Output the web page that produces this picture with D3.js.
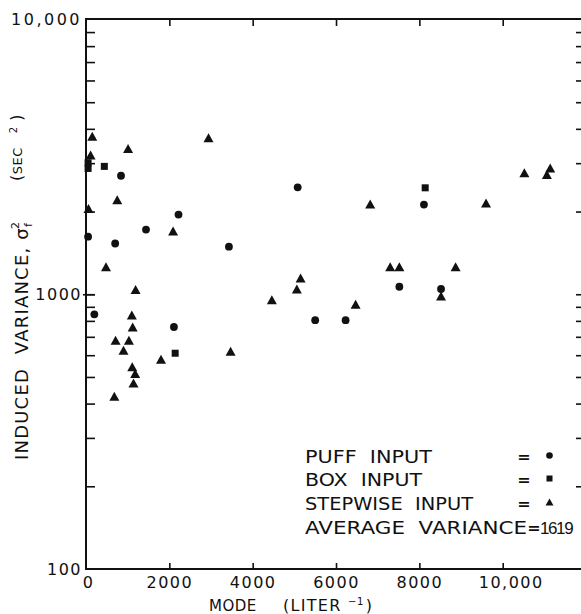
<!DOCTYPE html>
<html>
<head>
<meta charset="utf-8">
<script src="https://cdn.jsdelivr.net/npm/d3@7"></script>
<style>
  html, body { margin: 0; padding: 0; background: #fff; }
  svg { display: block; }
  text { font-family: "DejaVu Sans", sans-serif; fill: #111; white-space: pre; }
</style>
</head>
<body>
<svg id="chart" width="581" height="614"></svg>
<script>
// ---- data (mode in liter^-1, induced variance in sec^2) ----
const puffInput = [
  [840, 2700], [2220, 1950], [1440, 1720], [50, 1620], [700, 1530], [3430, 1490],
  [5080, 2450], [8110, 2120], [7520, 1065], [8520, 1045], [200, 845], [2110, 760],
  [5500, 805], [6230, 805]
];
const boxInput = [
  [440, 2920], [50, 3010], [50, 2870], [2140, 610], [8140, 2440]
];
const stepwiseInput = [
  [150, 3760], [110, 3210], [1010, 3390], [2940, 3710], [750, 2210], [60, 2050],
  [2090, 1700], [480, 1260], [1190, 1040], [1100, 840], [1120, 760], [710, 680],
  [1030, 680], [900, 625], [1800, 580], [3470, 620], [1110, 545], [1180, 515],
  [1140, 475], [680, 425], [4460, 955], [5060, 1045], [5150, 1145], [6470, 920],
  [6820, 2130], [7300, 1260], [7520, 1260], [8870, 1260], [8520, 985], [9600, 2150],
  [10520, 2770], [11140, 2880], [11060, 2730]
];
const xTickValues = [0, 2000, 4000, 6000, 8000, 10000];
const xTickLabels = ["0", "2000", "4000", "6000", "8000", "10,000"];
const yMajorValues = [100, 1000, 10000];
const yMajorLabels = ["100", "1000", "10,000"];
const yMinorValues = [200, 300, 400, 500, 600, 700, 800, 900, 2000, 3000, 4000, 5000, 6000, 7000, 8000, 9000];
const legendLabels = ["PUFF  INPUT", "BOX  INPUT", "STEPWISE  INPUT"];
const averageLabel = "AVERAGE  VARIANCE";
const averageValue = "1619";

// ---- layout ----
const svg = d3.select("#chart");
const pL = 86, pR = 582, pT = 19, pB = 569;
const x = d3.scaleLinear().domain([0, 10000]).range([pL, 502.7]);
const y = d3.scaleLog().domain([100, 10000]).range([pB, pT + 0.5]);

// spines
const spine = svg.append("g").attr("stroke", "#111").attr("stroke-width", 2);
spine.append("line").attr("x1", pL).attr("x2", pL).attr("y1", pT - 1).attr("y2", pB + 1);
spine.append("line").attr("x1", pL - 1).attr("x2", pR).attr("y1", pB).attr("y2", pB);
spine.append("line").attr("x1", pL - 1).attr("x2", pR).attr("y1", pT).attr("y2", pT);
spine.append("line").attr("x1", pR).attr("x2", pR).attr("y1", pT).attr("y2", pB);

function styleAxis(g) {
  g.select(".domain").remove();
  g.selectAll(".tick line").attr("stroke", "#111").attr("stroke-width", 1.6);
  g.selectAll(".tick text").attr("fill", "#111").style("font-family", "'DejaVu Sans', sans-serif");
}

// bottom axis (ticks inward)
const fmtX = d => xTickLabels[xTickValues.indexOf(d)];
svg.append("g").attr("transform", `translate(0,${pB})`)
  .call(d3.axisBottom(x).tickValues(xTickValues).tickSizeInner(-6).tickSizeOuter(0).tickPadding(7.5).tickFormat(fmtX))
  .call(styleAxis)
  .call(g => g.selectAll(".tick text").style("font-size", "16px").style("letter-spacing", "1.5px")
    .attr("dx", d => d === 10000 ? 8 : (d === 0 ? 2 : 0)))
  .call(g => g.selectAll(".tick").filter(d => d === 0).select("line").remove());

// top axis ticks
svg.append("g").attr("transform", `translate(0,${pT})`)
  .call(d3.axisTop(x).tickValues(xTickValues.slice(1)).tickSizeInner(-7).tickSizeOuter(0).tickFormat(""))
  .call(styleAxis);

// left axis majors + labels
const fmtY = d => yMajorLabels[yMajorValues.indexOf(d)];
svg.append("g").attr("transform", `translate(${pL},0)`)
  .call(d3.axisLeft(y).tickValues(yMajorValues).tickSizeInner(-9).tickSizeOuter(0).tickPadding(4).tickFormat(fmtY))
  .call(styleAxis)
  .call(g => g.selectAll(".tick text").style("font-size", "16px")
    .style("letter-spacing", d => d === 10000 ? "2.5px" : "1.5px"))
  .call(g => g.selectAll(".tick").filter(d => d === 100 || d === 10000).select("line").remove());
svg.append("g").attr("transform", `translate(${pL - 3},0)`)
  .call(d3.axisRight(y).tickValues([1000]).tickSizeInner(12).tickSizeOuter(0).tickFormat(""))
  .call(styleAxis);

// left minor ticks
svg.append("g").attr("transform", `translate(${pL},0)`)
  .call(d3.axisRight(y).tickValues(yMinorValues).tickSizeInner(9).tickSizeOuter(0).tickFormat(""))
  .call(styleAxis);

// right axis ticks
svg.append("g").attr("transform", `translate(${pR},0)`)
  .call(d3.axisLeft(y).tickValues(yMinorValues.concat([1000])).tickSizeInner(-6).tickSizeOuter(0).tickFormat(""))
  .call(styleAxis)
  .call(g => g.selectAll(".tick line").attr("x2", -6));

// ---- markers ----
const triPath = (w, h) => `M0,${-h / 2}L${w / 2},${h / 2}L${-w / 2},${h / 2}Z`;
const marks = svg.append("g").attr("fill", "#111");
marks.selectAll("circle.puff").data(puffInput).join("circle")
  .attr("class", "puff").attr("cx", d => x(d[0])).attr("cy", d => y(d[1])).attr("r", 3.9);
marks.selectAll("rect.box").data(boxInput).join("rect")
  .attr("class", "box").attr("x", d => x(d[0]) - 3.5).attr("y", d => y(d[1]) - 3.5)
  .attr("width", 7).attr("height", 7);
marks.selectAll("path.step").data(stepwiseInput).join("path")
  .attr("class", "step").attr("d", triPath(10, 9))
  .attr("transform", d => `translate(${x(d[0])},${y(d[1])})`);

// ---- legend ----
const legend = svg.append("g");
const legendY = [463, 486, 510];
const legendWidths = [127, 117, 168];
legendLabels.forEach((t, i) => {
  legend.append("text").attr("x", 305).attr("y", legendY[i])
    .attr("textLength", legendWidths[i]).attr("lengthAdjust", "spacingAndGlyphs")
    .style("font-size", "18px").text(t);
  legend.append("text").attr("x", 524).attr("y", legendY[i] - 1).attr("text-anchor", "middle")
    .style("font-size", "16px").style("font-weight", "bold").text("=");
});
legend.append("circle").attr("cx", 549.5).attr("cy", 455.5).attr("r", 3.3).attr("fill", "#111");
legend.append("rect").attr("x", 546.5).attr("y", 475.5).attr("width", 6).attr("height", 6).attr("fill", "#111");
legend.append("path").attr("d", triPath(8, 7)).attr("transform", "translate(549.5,502)").attr("fill", "#111");
legend.append("text").attr("x", 305).attr("y", 534)
  .attr("textLength", 222).attr("lengthAdjust", "spacingAndGlyphs")
  .style("font-size", "18px").text(averageLabel);
legend.append("text").attr("x", 534).attr("y", 533).attr("text-anchor", "middle")
  .style("font-size", "16px").style("font-weight", "bold").text("=");
legend.append("text").attr("x", 540).attr("y", 534)
  .style("font-family", "'Liberation Sans', sans-serif")
  .style("font-size", "17px").style("letter-spacing", "-1.4px").text(averageValue);

// ---- axis titles ----
const xt = svg.append("text").attr("y", 611).style("font-size", "15px").style("letter-spacing", "0.5px");
xt.append("tspan").attr("x", 209).text("MODE");
xt.append("tspan").attr("x", 283).style("font-size", "16px").style("letter-spacing", "1.3px").text("(LITER ");
xt.append("tspan").attr("dy", -6).style("font-size", "10px").text("−1");
xt.append("tspan").attr("dy", 6).attr("dx", 2).style("font-size", "16px").text(")");

const yt = svg.append("text").attr("transform", "translate(28,460) rotate(-90)")
  .style("font-size", "18px").style("letter-spacing", "1.2px");
yt.append("tspan").text("INDUCED  VARIANCE, σ");
yt.append("tspan").attr("dy", 4).style("font-size", "11px").text("f");
yt.append("tspan").attr("dx", -7).attr("dy", -13).style("font-size", "11px").text("2");

const ys = svg.append("text").attr("transform", "translate(22,181) rotate(-90)")
  .style("font-size", "13px").style("letter-spacing", "0.5px");
ys.append("tspan").style("font-size", "16px").text("(");
ys.append("tspan").text("SEC   ");
ys.append("tspan").attr("dy", -5).style("font-size", "10px").text("2");
ys.append("tspan").attr("dy", 5).style("font-size", "16px").text(" )");
</script>
</body>
</html>
